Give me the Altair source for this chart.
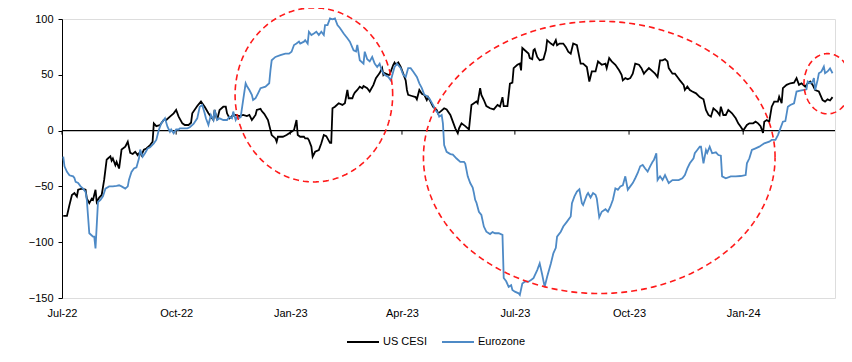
import altair as alt
import pandas as pd
import numpy as np

base = pd.Timestamp("2022-07-01")

# US CESI: day offset from 1 Jul 2022, value
us_days = [1,4,6,8,10,12,13,16,19,20,
           22,24,25,27,28,30,32,34,36,37,
           39,40,41,43,44,46,48,51,53,55,
           57,59,61,63,64,66,68,71,73,74,
           76,79,82,84,87,90,92,94,97,99,
           102,104,105,109,112,115,118,120,122,123,
           125,127,130,132,133,135,137,140,143,146,
           149,151,153,156,157,160,161,163,166,168,
           169,172,173,174,178,181,185,187,189,190,
           192,195,196,198,199,201,202,204,207,209,
           211,213,216,217,218,220,223,226,228,230,
           231,234,235,236,238,240,242,243,246,248,
           251,253,255,256,258,259,260,263,264,267,
           268,269,271,273,275,277,278,279,282,285,
           286,288,290,292,294,295,297,299,302,303,
           305,308,310,313,315,317,319,320,322,325,
           328,330,332,334,335,337,338,340,342,345,
           348,351,353,355,356,359,361,363,364,367,
           369,370,371,373,376,377,379,380,381,383,
           385,388,390,391,394,396,398,399,401,404,
           406,408,410,412,415,416,418,420,423,425,
           427,430,432,435,438,439,441,443,446,449,
           451,452,454,456,458,460,462,465,467,469,
           470,473,476,478,480,482,484,486,488,489,
           492,494,496,498,501,502,504,506,508,511,
           514,517,519,521,523,525,528,530,531,533,
           535,537,540,543,545,547,549,552,554,557,
           559,561,563,565,566,568,570,572,574,577,
           578,580,581,584,587,590,592,594,596,599,
           601,603,605,607,610,613,615,617,619,621]
us_vals = [-76.5,-76.5,-66.7,-57.7,-56,-59,-53,-52,-53,-60.7,
           -65,-61,-62,-53,-64,-60,-57.7,-44,-26,-25,
           -23,-27,-25,-31,-28,-34,-17,-14.4,-10,-20,
           -21,-19,-22,-19,-22,-17,-16,-13,-10,6.5,
           4,5,9.5,9.5,12.5,15.5,18.5,12.5,6.5,5,
           5,7,15.5,22,26,21.4,15.5,12.5,9.5,18.5,
           9.5,18.5,21.4,21.4,15.5,11,13,14,13,14,
           13,14,9.5,14,18.5,19.5,17.5,15,9.5,0.5,
           -4,-7,-10,-5.5,-5.5,-4,-1,0.5,9.5,-4,
           -5.5,-5.5,-7,-7,-8.5,-14.4,-23.4,-19,-17.5,-11.4,
           -4,-5,-11,-11,20,21.4,24.5,23,24.5,36.4,
           29,29,32,34,36.4,39.3,38,40,38,35,
           41,47,50,51.5,56,50,51.5,50,50,59,
           61,59,61,57,51,45,36.4,32,31,30,
           28,36.4,33,32,27.4,30,26,21.4,18.5,15.5,
           17,20,19,14,8,2,-2.4,2,6.5,4,
           1,23,24.5,26,24.5,38,32,27.4,22,20,
           19,23,21.5,30,22,22,42,43,56,59,
           60,54,74,72,69,65,64,72,73,66,
           63,64,72,81,78,76.5,81,76.5,78,78,
           75,70.7,69,78,76.5,71,60,60,57,44,
           53,53,62,59,60,56,65,62,59,54,
           50,45,47,46,47,51,60,59,56,51,
           52.5,56,53,51,48,63,63,64,62,56,
           51,51,48,45,41,36.4,39.5,36.4,35,33.4,
           30,28,18.5,14,12.5,20,17,14,21.4,14,
           14,18.5,15.5,11,6.5,3.5,0,5,6.5,6.5,
           8,6.5,4,-2,8,9.5,8,21.4,26,26,
           30.4,24.5,38,41,42.4,43,47,41,42.4,39.4,
           42.4,44,41,36.4,35,27.4,26,28,27,30]

# Eurozone
ez_days = [1,2,4,6,9,10,11,13,15,17,
           19,20,21,22,24,25,26,27,29,31,
           33,35,38,41,44,46,48,51,53,54,
           56,58,60,62,63,65,67,69,71,74,
           76,78,80,83,85,87,88,90,92,94,
           95,98,101,103,106,109,111,113,115,116,
           118,120,122,123,125,127,130,133,135,137,
           138,140,141,142,144,146,148,149,151,153,
           154,156,158,160,164,167,168,169,172,176,
           180,183,185,187,189,191,192,195,196,198,
           199,201,203,205,207,209,211,212,214,216,
           218,220,222,224,227,230,232,235,237,238,
           240,243,244,246,248,250,252,254,256,258,
           260,263,265,267,268,270,273,275,277,279,
           281,283,286,288,290,292,294,296,299,301,
           303,304,306,307,308,310,313,315,318,321,
           324,325,327,329,331,332,333,334,336,338,
           340,342,345,347,349,352,355,356,358,360,
           362,363,365,368,369,371,373,376,378,380,
           383,385,387,389,391,394,396,398,399,402,
           404,407,410,411,413,415,417,419,420,423,
           424,426,428,430,431,433,435,438,440,442,
           444,446,448,450,452,454,456,458,460,462,
           464,466,468,470,472,474,476,477,479,480,
           482,484,486,489,492,494,497,500,502,504,
           506,509,510,512,514,515,517,519,520,522,
           524,527,529,531,532,535,539,543,547,551,
           552,554,556,559,562,566,570,572,575,577,
           579,581,583,585,587,590,592,595,598,600,
           601,603,605,606,607,609,610,612,614,615,
           617,619,621]
ez_vals = [-23.4,-32,-37,-40,-41,-42.5,-46,-47,-50,-52,
           -55,-62,-77,-92,-94,-95,-95,-105.5,-64,-62,
           -59,-52,-50,-50,-49.5,-49,-50,-52,-50,-44,
           -37,-34,-33,-25,-17,-23.4,-20,-16,-15,-11.4,
           -8.4,0.5,6.5,11,3.5,-1,1,-2.4,1,1,
           2,2,2,3,6,11,21.4,23,15.5,11,
           5,14,9.5,18.5,9.5,11,9.5,9.5,12.5,11,
           17,9.5,12,11,12,27.4,42.4,40,36.4,32,
           27.4,29,33.4,38,39.4,42.4,54,63,66,67.7,
           69,69,70.7,76.7,78,79.7,78,79.7,81,78,
           88.6,85.7,87,88.6,85.7,88.6,85.7,94.6,94.6,100.6,
           99.7,100.6,94.6,92,87,82.7,79.7,72,71,76.7,
           63,60,70.7,64,62,66,60,57,60,53,
           50,48,45,53,57,60,56,50,48,56,
           56,53,48,42.4,38,32,31,29,23,18.5,
           15.5,12.5,14,6.5,-13,-19,-21,-21.5,-25,-28,
           -28,-29.5,-41,-47,-51,-56,-62,-64.5,-72.7,-75.6,
           -86,-90.6,-92.7,-91,-92,-92,-93.5,-132,-135,-140,
           -138.5,-142.8,-144.3,-145.8,-147.3,-137,-135.4,-135.4,-133.9,-132.3,
           -125,-119,-129,-140,-131,-119,-110,-105,-95,-90.6,
           -86,-81.6,-77,-65,-59,-54.7,-52.6,-65,-66.7,-57.7,
           -56,-60,-56,-57.5,-60.7,-77.7,-72.7,-70.5,-72.7,-68,
           -62,-51.7,-53,-50,-49,-41,-53,-50,-47,-42.7,
           -38,-32,-30.8,-34,-36.8,-32,-27.9,-26.5,-20.3,-44.3,
           -41,-44.3,-39.8,-47,-44.3,-44.3,-44.3,-42.7,-39.8,-33.8,
           -29.3,-24.8,-20.3,-17.4,-14.4,-14.4,-29.3,-17.4,-20,-14.4,
           -20.3,-19.5,-21.9,-22.5,-41,-42.7,-41,-41,-40.7,-39.8,
           -29.3,-24.8,-17.4,-15.9,-14.4,-11.4,-9.9,-8.4,-8.4,-4,
           2,8,8.5,21.4,23,24.5,35,35.8,36.4,37,
           44,42.4,44,47,36.4,45.4,51.4,52.8,57.3,51.4,
           53,55.8,51.4]

assert len(us_days) == len(us_vals)
assert len(ez_days) == len(ez_vals)

series_names = ["US CESI", "Eurozone"]
series_colors = ["#000000", "#4E8AC6"]

tick_dates = ["2022-07-01", "2022-10-01", "2023-01-01", "2023-04-01",
              "2023-07-01", "2023-10-01", "2024-01-01"]
y_ticks = [-150, -100, -50, 0, 50, 100]

# red dashed annotation ellipses (centre day offset, centre value, radii)
ell_center_day = [203, 433, 617]
ell_center_val = [32, -24, 42]
ell_rx_days = [63.5, 141.7, 19.0]
ell_ry_val = [78, 122, 27]

FONT = "Liberation Sans"

us_df = pd.DataFrame({"date": base + pd.to_timedelta(us_days, unit="D"),
                      "value": us_vals, "series": series_names[0]})
ez_df = pd.DataFrame({"date": base + pd.to_timedelta(ez_days, unit="D"),
                      "value": ez_vals, "series": series_names[1]})

rows = []
ts = np.linspace(0, 2 * np.pi, 241)
for k in range(len(ell_center_day)):
    for i, t in enumerate(ts):
        rows.append({"ell": k, "i": i,
                     "date": base + pd.Timedelta(days=float(ell_center_day[k] + ell_rx_days[k] * np.cos(t))),
                     "value": ell_center_val[k] + ell_ry_val[k] * np.sin(t)})
ell_df = pd.DataFrame(rows)

tick_df = pd.DataFrame({"date": pd.to_datetime(tick_dates)})
zero_df = pd.DataFrame({"v": [0]})

def dt(s):
    d = pd.Timestamp(s)
    return alt.DateTime(year=d.year, month=d.month, date=d.day)

x_scale = alt.Scale(domain=[dt("2022-07-01"), dt("2024-03-15")])
y_scale = alt.Scale(domain=[-150, 100], nice=False, zero=False)

x_axis = alt.Axis(values=[dt(s) for s in tick_dates], format="%b-%y", domain=False,
                  ticks=False, tickSize=0, labelPadding=9, grid=False, title=None,
                  labelFontSize=11, labelFont=FONT, labelColor="black",
                  labelFlush=False, labelOverlap=False)
y_axis = alt.Axis(values=y_ticks, domain=True, domainColor="black", domainWidth=1,
                  ticks=True, tickColor="black", tickSize=4, labelPadding=5,
                  grid=False, title=None, labelFontSize=11, labelFont=FONT,
                  labelColor="black")

legend = alt.Legend(title=None, orient="none", legendX=284, legendY=306,
                    direction="horizontal", symbolType="stroke", symbolSize=1024,
                    symbolStrokeWidth=2, labelFontSize=11, labelFont=FONT,
                    labelColor="black", labelOffset=3, columnPadding=10, padding=0)
color = alt.Color("series:N", scale=alt.Scale(domain=series_names, range=series_colors),
                  legend=legend)

zero_line = alt.Chart(zero_df).mark_rule(color="black", strokeWidth=1.2).encode(
    y=alt.Y("v:Q", scale=y_scale, axis=y_axis))

ticks = alt.Chart(tick_df).mark_rule(color="black", strokeWidth=1).encode(
    x=alt.X("date:T", scale=x_scale, axis=x_axis),
    y=alt.datum(0), y2=alt.datum(-3.6))

us_line = alt.Chart(us_df).mark_line(strokeWidth=1.8).encode(
    x=alt.X("date:T", scale=x_scale, axis=x_axis),
    y=alt.Y("value:Q", scale=y_scale, axis=y_axis),
    color=color)

ez_line = alt.Chart(ez_df).mark_line(strokeWidth=1.8).encode(
    x=alt.X("date:T", scale=x_scale, axis=x_axis),
    y=alt.Y("value:Q", scale=y_scale, axis=y_axis),
    color=color)

ellipses = alt.Chart(ell_df).mark_line(color="#FF1A1A", strokeWidth=1.6,
                                       strokeDash=[6, 4]).encode(
    x=alt.X("date:T", scale=x_scale),
    y=alt.Y("value:Q", scale=y_scale),
    detail="ell:N", order="i:Q")

chart = alt.layer(zero_line, ticks, us_line, ez_line, ellipses).properties(
    width=773, height=279,
    autosize=alt.AutoSizeParams(type="none"),
    padding={"left": 54, "top": 11, "right": 9, "bottom": 56},
).configure_view(stroke=None).configure(font=FONT)

chart.save("out.html", embed_options={"renderer": "svg", "actions": False})
